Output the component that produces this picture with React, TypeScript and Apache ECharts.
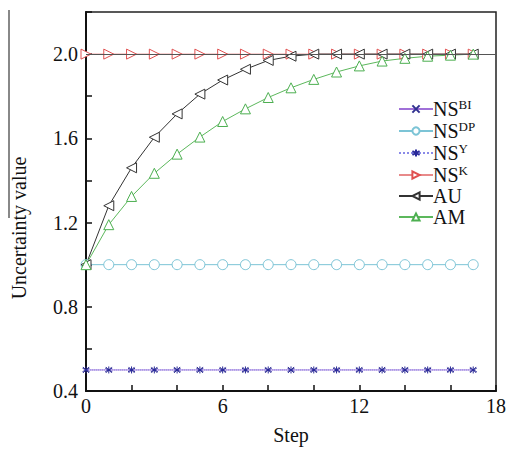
import React, { useEffect, useRef } from "react";
import * as echarts from "echarts";

const steps = [0, 1, 2, 3, 4, 5, 6, 7, 8, 9, 10, 11, 12, 13, 14, 15, 16, 17];
const nsBI = [0.5, 0.5, 0.5, 0.5, 0.5, 0.5, 0.5, 0.5, 0.5, 0.5, 0.5, 0.5, 0.5, 0.5, 0.5, 0.5, 0.5, 0.5];
const nsDP = [1.0, 1.0, 1.0, 1.0, 1.0, 1.0, 1.0, 1.0, 1.0, 1.0, 1.0, 1.0, 1.0, 1.0, 1.0, 1.0, 1.0, 1.0];
const nsY = [0.5, 0.5, 0.5, 0.5, 0.5, 0.5, 0.5, 0.5, 0.5, 0.5, 0.5, 0.5, 0.5, 0.5, 0.5, 0.5, 0.5, 0.5];
const nsK = [2.0, 2.0, 2.0, 2.0, 2.0, 2.0, 2.0, 2.0, 2.0, 2.0, 2.0, 2.0, 2.0, 2.0, 2.0, 2.0, 2.0, 2.0];
const au = [1.0, 1.28, 1.46, 1.605, 1.716, 1.81, 1.877, 1.928, 1.97, 1.99, 2.0, 2.0, 2.0, 2.0, 2.0, 2.0, 2.0, 2.0];
const am = [1.0, 1.19, 1.324, 1.434, 1.525, 1.606, 1.68, 1.74, 1.794, 1.84, 1.88, 1.915, 1.944, 1.967, 1.98, 1.99, 1.995, 2.0];

const FONT = "Liberation Serif";
const FS = 20;

const pairs = (ys: number[]) => steps.map((x, i) => [x, ys[i]]);

export default function App() {
  const ref = useRef<HTMLDivElement>(null);
  useEffect(() => {
    if (!ref.current) return;
    document.body.style.margin = "0";
    const chart = echarts.init(ref.current, null, { renderer: "svg" });
    const legendLabels: Record<string, string> = {
      NSBI: "{a|NS}{s|BI}",
      NSDP: "{a|NS}{s|DP}",
      NSY: "{a|NS}{s|Y}",
      NSK: "{a|NS}{s|K}",
      AU: "{a|AU}",
      AM: "{a|AM}",
    };
    const mk = (
      name: string,
      data: number[],
      color: string,
      markColor: string,
      symbol: string,
      size: number,
      fill: string,
      lineType: string = "solid",
      extra: any = {}
    ) => ({
      name,
      type: "line",
      data: pairs(data),
      symbol,
      symbolSize: size,
      showAllSymbol: true,
      lineStyle: { color, width: 1, type: lineType },
      itemStyle: { color: fill, borderColor: markColor, borderWidth: 1 },
      ...extra,
    });
    chart.setOption({
      animation: false,
      textStyle: { fontFamily: FONT },
      grid: {
        left: 86,
        right: 12,
        top: 12,
        bottom: 57,
        show: true,
        borderColor: "#222",
        borderWidth: 1.5,
      },
      graphic: [
        {
          type: "line",
          shape: { x1: 9, y1: 10, x2: 9, y2: 218 },
          style: { stroke: "#888", lineWidth: 2 },
        },
        {
          type: "text",
          x: 19,
          y: 228,
          rotation: Math.PI / 2,
          style: {
            text: "Uncertainty value",
            fontFamily: FONT,
            fontSize: FS,
            fill: "#111",
            align: "center",
            verticalAlign: "middle",
          },
        },
      ],
      legend: {
        orient: "vertical",
        left: 393,
        top: 93,
        itemWidth: 34,
        itemHeight: 9,
        itemGap: 1,
        formatter: (n: string) => legendLabels[n],
        textStyle: {
          fontFamily: FONT,
          color: "#111",
          padding: [0, 0, 0, -5],
          rich: {
            a: { fontSize: FS, fontFamily: FONT, color: "#111", lineHeight: 22 },
            s: { fontSize: 13, fontFamily: FONT, color: "#111", verticalAlign: "top", lineHeight: 14 },
          },
        },
      },
      xAxis: {
        type: "value",
        min: 0,
        max: 18,
        interval: 2,
        name: "Step",
        nameLocation: "middle",
        nameGap: 34,
        nameTextStyle: { fontFamily: FONT, fontSize: FS, color: "#111" },
        axisLine: { lineStyle: { color: "#111", width: 2 } },
        axisTick: { inside: true, length: 6, lineStyle: { color: "#111", width: 1.5 } },
        splitLine: { show: false },
        axisLabel: {
          fontFamily: FONT,
          fontSize: FS,
          color: "#111",
          margin: 5,
          formatter: (v: number) => (Math.round(v) % 6 === 0 ? String(Math.round(v)) : ""),
        },
      },
      yAxis: {
        type: "value",
        min: 0.4,
        max: 2.2,
        interval: 0.2,
        axisLine: { show: true, lineStyle: { color: "#111", width: 2 } },
        axisTick: { show: true, inside: true, length: 6, lineStyle: { color: "#111", width: 1.5 } },
        splitLine: { show: false },
        axisLabel: {
          fontFamily: FONT,
          fontSize: FS,
          color: "#111",
          margin: 8,
          formatter: (v: number) => {
            const t = Math.round(v * 10);
            return t % 4 === 0 && t <= 20 ? v.toFixed(1) : "";
          },
        },
      },
      series: [
        mk("NSBI", nsBI, "#a070d8", "#303090", "path://M0,0L10,10M10,0L0,10", 6, "none"),
        mk("NSDP", nsDP, "#7cc4d6", "#7cc4d6", "circle", 10, "#fff"),
        mk("NSY", nsY, "#8a8ae8", "#2a2a9a", "path://M5,0L5,10M0.7,2.5L9.3,7.5M0.7,7.5L9.3,2.5", 7, "none", "dotted"),
        mk("NSK", nsK, "#e88a8a", "#e05050", "path://M0,0L10,5L0,10Z", 10, "#fff", "solid", {
          markLine: {
            silent: true,
            symbol: "none",
            label: { show: false },
            lineStyle: { color: "#555", width: 1.2, type: "solid" },
            data: [{ yAxis: 2.0 }],
          },
        }),
        mk("AU", au, "#333", "#333", "path://M10,0L0,5L10,10Z", 10, "#fff"),
        mk("AM", am, "#5cb85c", "#4caf50", "triangle", 10, "#fff"),
      ],
    });
    return () => chart.dispose();
  }, []);
  return <div ref={ref} style={{ width: 509, height: 450 }} />;
}
